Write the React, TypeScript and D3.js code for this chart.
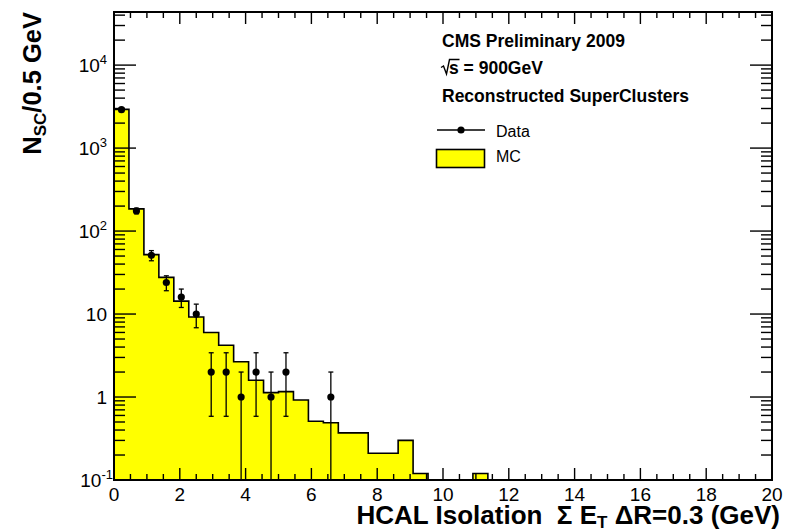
import React from 'react';
import * as d3 from 'd3';

const W = 787;
const H = 532;

// Histogram: 44 bins over 0..20
const N_BINS = 44;
const X_MIN = 0;
const X_MAX = 20;

// MC expectation per bin
const mcValues = [
  2925, 185, 52, 27.7, 14.3, 9.2, 6.0, 4.2, 2.66, 1.59,
  1.13, 1.16, 0.92, 0.51, 0.49, 0.37, 0.37, 0.21, 0.21, 0.30,
  0.12, 0, 0, 0, 0.12,
];

// Data counts per bin
const dataCounts = [2900, 175, 51, 24, 16, 10, 2, 2, 1, 2, 1, 2, 0, 0, 1];

const xMajorTicks = [0, 2, 4, 6, 8, 10, 12, 14, 16, 18, 20];
const yDecades = [-1, 0, 1, 2, 3, 4];
const yTickLabels = [
  { base: '10', exp: '-1' },
  { base: '1', exp: '' },
  { base: '10', exp: '' },
  { base: '10', exp: '2' },
  { base: '10', exp: '3' },
  { base: '10', exp: '4' },
];

const textLines = ['CMS Preliminary 2009', 's = 900GeV', 'Reconstructed SuperClusters'];
const legendLabels = ['Data', 'MC'];

const FONT = "'Liberation Sans', Arial, Helvetica, sans-serif";

export default function App() {
  const m = { left: 114, right: 772, top: 12, bottom: 480 };
  const x = d3.scaleLinear().domain([X_MIN, X_MAX]).range([m.left, m.right]);
  const yMax = Math.pow(10, 4.64);
  const y = d3.scaleLog().domain([0.1, yMax]).range([m.bottom, m.top]).clamp(true);
  const yv = (v: number) => y(Math.max(v, 0.1));
  const bw = (X_MAX - X_MIN) / N_BINS;

  const mc = d3.range(N_BINS).map((i) => mcValues[i] ?? 0);
  const stepPts: [number, number][] = mc.map((v, i) => [X_MIN + i * bw, v]);
  stepPts.push([X_MAX, mc[N_BINS - 1]]);

  const area = d3
    .area<[number, number]>()
    .x((d) => x(d[0]))
    .y0(m.bottom)
    .y1((d) => yv(d[1]))
    .curve(d3.curveStepAfter);

  const outlinePts: [number, number][] = [[X_MIN, 0.1], ...stepPts, [X_MAX, 0.1]];
  const line = d3
    .line<[number, number]>()
    .x((d) => x(d[0]))
    .y((d) => yv(d[1]))
    .curve(d3.curveStepAfter);

  // ticks
  const xMinor = d3.range(0, 40 + 1).map((i) => i * 0.5).filter((v) => v % 2 !== 0);
  const yMinor: number[] = [];
  yDecades.forEach((d) => {
    for (let k = 2; k <= 9; k++) {
      const v = k * Math.pow(10, d);
      if (v <= yMax) yMinor.push(v);
    }
  });

  const tickStroke = '#000';

  return (
    <svg
      width={W}
      height={H}
      style={{ position: 'absolute', left: 0, top: 0, background: '#fff' }}
      fontFamily={FONT}
    >
      <rect x={0} y={0} width={W} height={H} fill="#fff" />
      <defs>
        <clipPath id="frame">
          <rect x={m.left} y={m.top} width={m.right - m.left} height={m.bottom - m.top} />
        </clipPath>
      </defs>

      {/* MC histogram */}
      <g clipPath="url(#frame)">
        <path d={area(stepPts) || ''} fill="#ffff00" stroke="none" />
        <path d={line(outlinePts) || ''} fill="none" stroke="#000" strokeWidth={1.6} />
      </g>

      {/* ticks */}
      <g stroke={tickStroke} strokeWidth={1.4}>
        {xMajorTicks.map((t) => (
          <g key={'xm' + t}>
            <line x1={x(t)} x2={x(t)} y1={m.bottom} y2={m.bottom - 12} />
            <line x1={x(t)} x2={x(t)} y1={m.top} y2={m.top + 12} />
          </g>
        ))}
        {xMinor.map((t) => (
          <g key={'xn' + t}>
            <line x1={x(t)} x2={x(t)} y1={m.bottom} y2={m.bottom - 6} />
            <line x1={x(t)} x2={x(t)} y1={m.top} y2={m.top + 6} />
          </g>
        ))}
        {yDecades.map((d) => {
          const yy = y(Math.pow(10, d));
          return (
            <g key={'ym' + d}>
              <line x1={m.left} x2={m.left + 22} y1={yy} y2={yy} />
              <line x1={m.right} x2={m.right - 22} y1={yy} y2={yy} />
            </g>
          );
        })}
        {yMinor.map((v, i) => {
          const yy = y(v);
          return (
            <g key={'yn' + i}>
              <line x1={m.left} x2={m.left + 11} y1={yy} y2={yy} />
              <line x1={m.right} x2={m.right - 11} y1={yy} y2={yy} />
            </g>
          );
        })}
      </g>

      {/* data points with error bars */}
      <g clipPath="url(#frame)" stroke="#000" strokeWidth={1.3}>
        {dataCounts.map((n, i) => {
          if (n <= 0) return null;
          const cx = x(X_MIN + (i + 0.5) * bw);
          const cy = yv(n);
          const err = Math.sqrt(n);
          const hi = yv(n + err);
          const lo = n - err > 0 ? yv(n - err) : m.bottom + 2;
          return (
            <g key={'d' + i}>
              <line x1={cx} x2={cx} y1={hi} y2={lo} />
              <line x1={cx - 2.5} x2={cx + 2.5} y1={hi} y2={hi} />
              {n - err > 0 && <line x1={cx - 2.5} x2={cx + 2.5} y1={lo} y2={lo} />}
              <circle cx={cx} cy={cy} r={3.6} fill="#000" stroke="none" />
            </g>
          );
        })}
      </g>

      {/* frame */}
      <rect
        x={m.left}
        y={m.top}
        width={m.right - m.left}
        height={m.bottom - m.top}
        fill="none"
        stroke="#000"
        strokeWidth={2}
      />

      {/* x tick labels */}
      <g fontSize={19} textAnchor="middle" fill="#000">
        {xMajorTicks.map((t) => (
          <text key={'xl' + t} x={x(t)} y={501}>
            {t}
          </text>
        ))}
      </g>

      {/* y tick labels */}
      <g fontSize={19} textAnchor="end" fill="#000">
        {yDecades.map((d, i) => {
          const lab = yTickLabels[i];
          const yy = y(Math.pow(10, d));
          const xr = d === -1 ? 113 : 107;
          return (
            <text key={'yl' + d} x={xr} y={yy + 7}>
              <tspan>{lab.base}</tspan>
              {lab.exp && (
                <tspan fontSize={13} dy={-8}>
                  {lab.exp}
                </tspan>
              )}
            </text>
          );
        })}
      </g>

      {/* axis titles */}
      <text
        x={780}
        y={524}
        textAnchor="end"
        fontSize={26}
        fontWeight="bold"
        style={{ whiteSpace: 'pre' }}
      >
        <tspan>{'HCAL Isolation  Σ E'}</tspan>
        <tspan fontSize={17} dy={4}>T</tspan>
        <tspan dy={-4}>{' ΔR=0.3 (GeV)'}</tspan>
      </text>
      <g transform={`translate(41, 12) rotate(-90)`}>
        <text x={0} y={0} textAnchor="end" fontSize={25.5} fontWeight="bold" style={{ whiteSpace: 'pre' }}>
          <tspan>N</tspan>
          <tspan fontSize={17} dy={5}>SC</tspan>
          <tspan dy={-5}>/0.5 GeV</tspan>
        </text>
      </g>

      {/* text block */}
      <g fontSize={17.5} fontWeight="bold" fill="#000">
        <text x={442} y={47}>{textLines[0]}</text>
        <path d="M441,67.5 L443.5,66 L446.5,74 L449.5,59.5 L459.5,59.5" fill="none" stroke="#000" strokeWidth={1.4} />
        <text x={449} y={73.5}>{textLines[1]}</text>
        <text x={442} y={102}>{textLines[2]}</text>
      </g>

      {/* legend */}
      <g>
        <line x1={437} x2={485} y1={130} y2={130} stroke="#000" strokeWidth={1.4} />
        <circle cx={461} cy={130} r={3.6} fill="#000" />
        <text x={496} y={136.5} fontSize={16}>{legendLabels[0]}</text>
        <rect x={436.5} y={149.5} width={48} height={18} fill="#ffff00" stroke="#000" strokeWidth={1.6} />
        <text x={496} y={161.5} fontSize={16}>{legendLabels[1]}</text>
      </g>
    </svg>
  );
}
